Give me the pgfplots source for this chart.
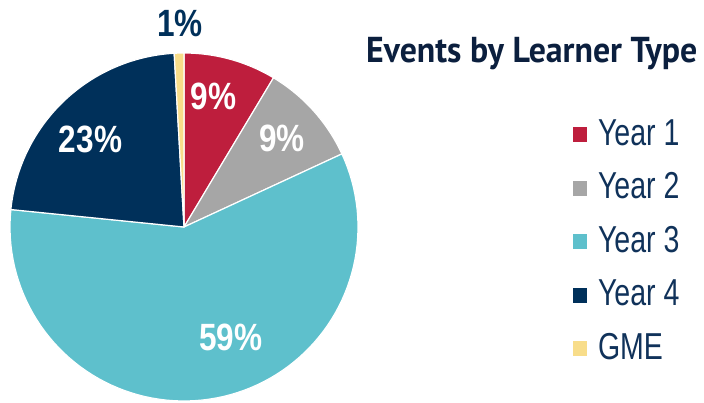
\documentclass[border=0pt]{standalone}
\usepackage{pgfplots}
\pgfplotsset{compat=1.18}
\usepackage{pgfplotstable}
\usepackage{graphicx}
\usepackage{fontspec}
\setmainfont{Liberation Sans}
\newfontfamily\titlefont{PT Sans}

\definecolor{slice0}{HTML}{BE1E3D}
\definecolor{slice1}{HTML}{A6A6A6}
\definecolor{slice2}{HTML}{5EC0CC}
\definecolor{slice3}{HTML}{00305A}
\definecolor{slice4}{HTML}{F8DD8A}
\definecolor{titlenavy}{HTML}{0B1F3E}
\definecolor{legnavy}{HTML}{10325A}

\pgfplotstableread[col sep=comma]{
label,value
Year 1,8.6
Year 2,9.5
Year 3,58.5
Year 4,22.5
GME,0.9
}\pietable

\newcommand\pctfont{\fontsize{38}{40}\selectfont\bfseries}

\begin{document}
\begin{tikzpicture}
\path[use as bounding box] (0,0) rectangle (704pt,402pt);
\begin{axis}[at={(0,0)}, anchor=south west,
  width=704pt, height=402pt, scale only axis,
  xmin=0, xmax=704, ymin=0, ymax=402,
  hide axis, clip=false,
  legend style={at={(axis cs:573,283.75)}, anchor=north west, draw=none, fill=none,
    inner sep=0pt, outer sep=0pt, column sep=11pt, row sep=0pt,
    font=\fontsize{37.5}{40}\selectfont, text=legnavy,
    nodes={inner sep=0pt, text height=26.75pt, text depth=26.75pt}},
  legend cell align=left,
  legend image code/.code={\fill[#1, draw=none] (0pt,3pt) rectangle (14pt,18pt);},
]
\def\cum{0}
\pgfplotsforeachungrouped \i in {0,...,4}{%
  \pgfplotstablegetelem{\i}{value}\of\pietable
  \let\val\pgfplotsretval
  \pgfplotstablegetelem{\i}{label}\of\pietable
  \let\lab\pgfplotsretval
  \pgfmathsetmacro\angA{90-3.6*(\cum+\val)}%
  \pgfmathsetmacro\angB{90-3.6*\cum}%
  \pgfmathsetmacro\cum{\cum+\val}%
  \edef\doslice{\noexpand\addplot[fill=slice\i, draw=white, line width=1.2pt, domain=\angA:\angB, samples=90, variable=\noexpand\t] ({184+174*cos(t)},{175+174*sin(t)}) -- (axis cs:184,175) -- cycle;
  \noexpand\addlegendentry{\noexpand\scalebox{0.76}[1]{\lab}}}%
  \doslice
}
\node[anchor=base, text=white, font=\pctfont] at (axis cs:213.5,292) {\scalebox{0.83}[1]{9\%}};
\node[anchor=base, text=white, font=\pctfont] at (axis cs:282,250) {\scalebox{0.83}[1]{9\%}};
\node[anchor=base, text=white, font=\pctfont] at (axis cs:90.5,249) {\scalebox{0.83}[1]{23\%}};
\node[anchor=base, text=white, font=\pctfont] at (axis cs:231,52) {\scalebox{0.83}[1]{59\%}};
\node[anchor=base, text=slice3, font=\pctfont] at (axis cs:180,365) {\scalebox{0.83}[1]{1\%}};
\node[anchor=base west, inner sep=0pt, text=titlenavy, font={\titlefont\bfseries\fontsize{36}{40}\selectfont}] at (axis cs:366,339) {\resizebox{331pt}{\height}{Events by Learner Type}};
\end{axis}
\end{tikzpicture}
\end{document}
